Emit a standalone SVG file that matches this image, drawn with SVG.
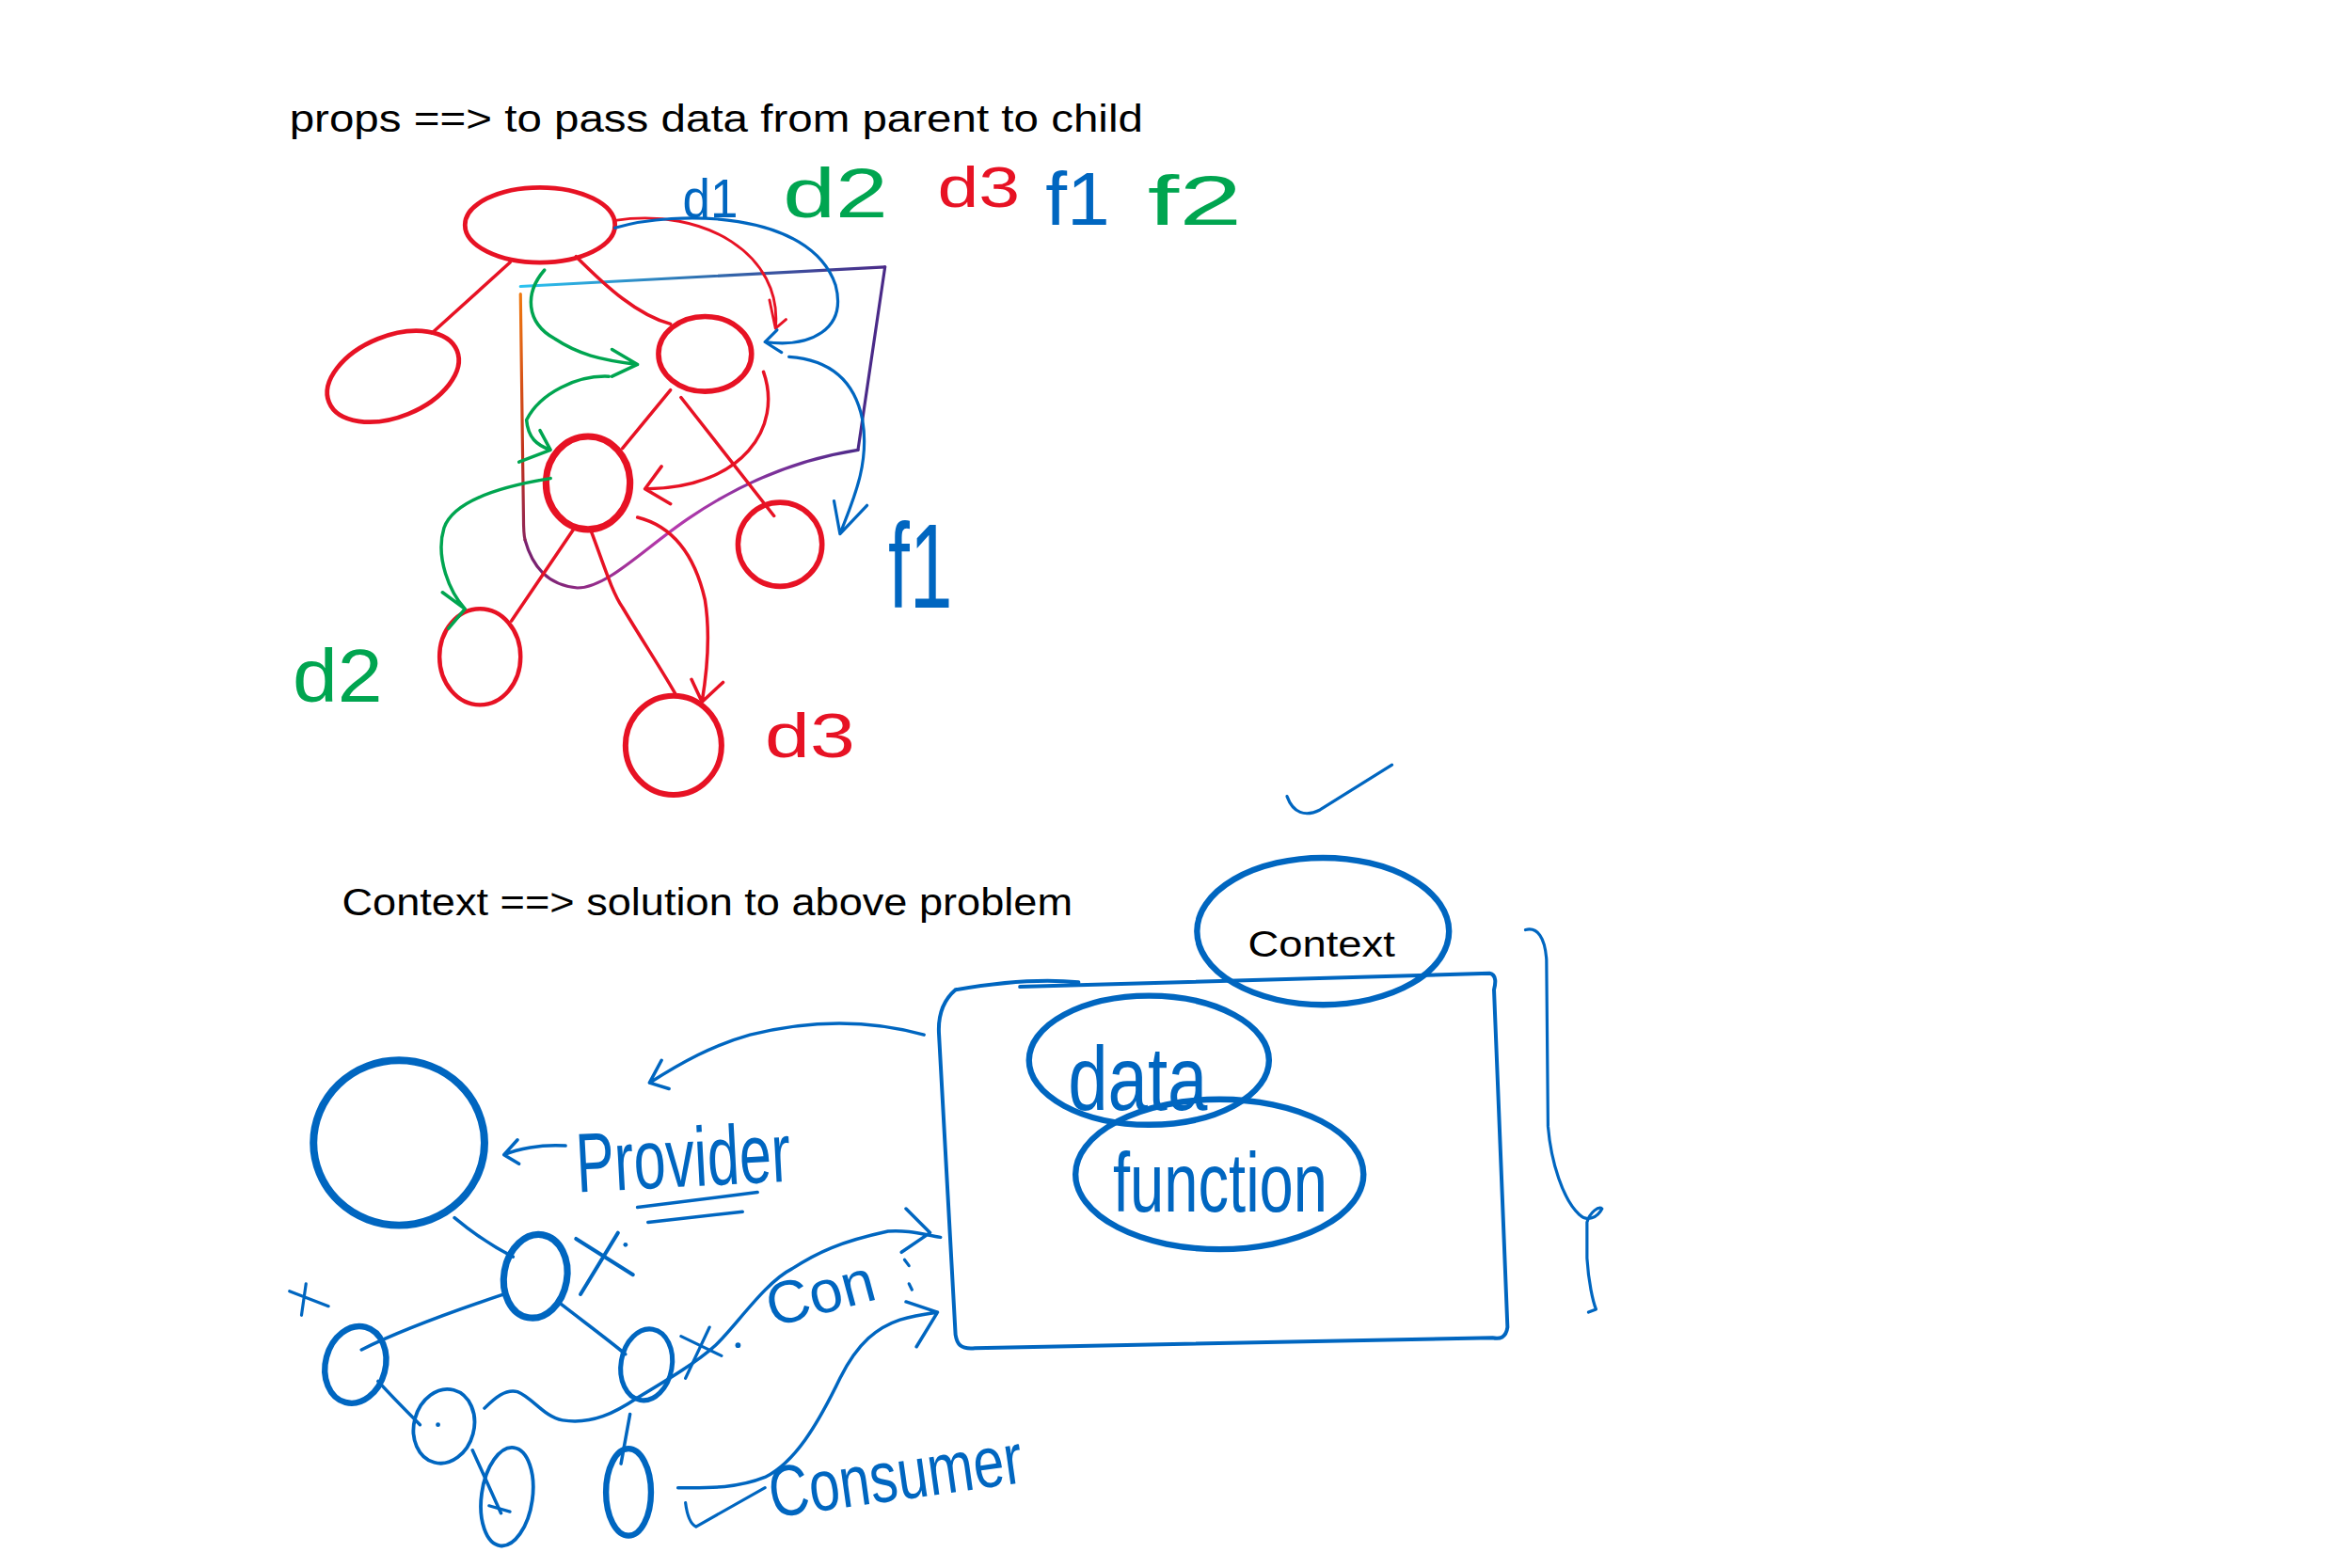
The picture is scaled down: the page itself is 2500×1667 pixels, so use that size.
<svg xmlns="http://www.w3.org/2000/svg" width="2500" height="1667" viewBox="0 0 2500 1667">
<defs>
<style>
.r{fill:none;stroke:#E71224;stroke-linecap:round;stroke-linejoin:round}
.b{fill:none;stroke:#0066C0;stroke-linecap:round;stroke-linejoin:round}
.g{fill:none;stroke:#00A550;stroke-linecap:round;stroke-linejoin:round}
.pt{font-family:"Liberation Sans",Arial,sans-serif;fill:#000}
.hw{font-family:"Liberation Sans",Arial,sans-serif}
</style>
<linearGradient id="gTop" x1="347" y1="0" x2="590" y2="0" gradientUnits="userSpaceOnUse">
<stop offset="0" stop-color="#2BC3F0"/><stop offset="0.5" stop-color="#2F6FB0"/><stop offset="1" stop-color="#4A2A88"/>
</linearGradient>
<linearGradient id="gLeft" x1="0" y1="195" x2="0" y2="380" gradientUnits="userSpaceOnUse">
<stop offset="0" stop-color="#F07A10"/><stop offset="0.6" stop-color="#C0301E"/><stop offset="1" stop-color="#7A2270"/>
</linearGradient>
<linearGradient id="gBot" x1="360" y1="0" x2="575" y2="0" gradientUnits="userSpaceOnUse">
<stop offset="0" stop-color="#7A2270"/><stop offset="0.4" stop-color="#B83AAE"/><stop offset="1" stop-color="#4A2A88"/>
</linearGradient>
</defs>
<rect width="2500" height="1667" fill="#fff"/>
<g transform="scale(1.59439)">
<text id="title1" class="pt" x="193" y="88" font-size="26" textLength="569" lengthAdjust="spacingAndGlyphs">props ==&gt; to pass data from parent to child</text>
<text id="title2" class="pt" x="228" y="610" font-size="26" textLength="487" lengthAdjust="spacingAndGlyphs">Context ==&gt; solution to above problem</text>

<g id="labels-top">
<text class="hw" x="455" y="145" font-size="36" fill="#0066C0" textLength="37" lengthAdjust="spacingAndGlyphs">d1</text>
<text class="hw" x="522" y="145" font-size="46" fill="#00A550" textLength="70" lengthAdjust="spacingAndGlyphs">d2</text>
<text class="hw" x="625" y="138" font-size="38" fill="#E71224" textLength="55" lengthAdjust="spacingAndGlyphs">d3</text>
<text class="hw" x="697" y="150" font-size="50" fill="#0066C0" textLength="43" lengthAdjust="spacingAndGlyphs">f1</text>
<text class="hw" x="765" y="150" font-size="46" fill="#00A550" textLength="63" lengthAdjust="spacingAndGlyphs">f2</text>
<text class="hw" x="592" y="405" font-size="80" fill="#0066C0" textLength="43" lengthAdjust="spacingAndGlyphs">f1</text>
<text class="hw" x="195" y="468" font-size="50" fill="#00A550" textLength="60" lengthAdjust="spacingAndGlyphs">d2</text>
<text class="hw" x="510" y="505" font-size="42" fill="#E71224" textLength="60" lengthAdjust="spacingAndGlyphs">d3</text>
</g>

<!-- top graph nodes -->
<g id="nodeTop"><ellipse class="r" cx="360" cy="150" rx="50" ry="25" stroke-width="3"/></g>
<g id="nodeLeft"><ellipse class="r" cx="262" cy="251" rx="46" ry="27" transform="rotate(-22 262 251)" stroke-width="3"/></g>
<g id="nodeB"><ellipse class="r" cx="470" cy="236" rx="31" ry="25" stroke-width="3.5"/></g>
<g id="nodeC"><ellipse class="r" cx="392" cy="322" rx="28" ry="31" stroke-width="4.5"/></g>
<g id="nodeD"><ellipse class="r" cx="520" cy="363" rx="28" ry="28" stroke-width="3.5"/></g>
<g id="nodeD2"><ellipse class="r" cx="320" cy="438" rx="27" ry="32" stroke-width="2.8"/></g>
<g id="nodeD3"><ellipse class="r" cx="449" cy="497" rx="32" ry="33" stroke-width="3.8"/></g>

<!-- boundary loop -->
<g id="boundary" fill="none" stroke-width="2" stroke-linecap="round">
<path d="M347,191 L590,178" stroke="url(#gTop)"/>
<path d="M590,178 L572,300" stroke="#4A2A88"/>
<path d="M572,300 C540,305 500,318 460,345 C430,365 405,392 385,392 C365,390 355,378 350,360" stroke="url(#gBot)"/>
<path d="M347,196 L349,345 C349,352 349,356 350,360" stroke="url(#gLeft)"/>
</g>

<g id="connectors-top">
<path class="r" stroke-width="2.2" d="M340,175 L288,222"/>
<path class="r" stroke-width="2.2" d="M384,171 C405,192 425,210 447,216"/>
<path class="r" stroke-width="2.2" d="M447,260 L415,299"/>
<path class="r" stroke-width="2.2" d="M454,265 L516,344"/>
<path class="r" stroke-width="2.2" d="M509,248 C522,285 495,325 432,326 M441,311 L430,326 L447,336"/>
<path class="r" stroke-width="1.8" d="M410,147 C470,138 522,170 517,219 M513,200 L517,219 L524,213"/>
<path class="b" stroke-width="2" d="M410,152 C450,140 540,140 557,190 C565,220 540,232 510,228 M518,220 L510,228 L521,235"/>
<path class="b" stroke-width="2" d="M526,238 C555,240 570,255 575,280 C580,310 568,335 560,356 M556,334 L560,356 L578,337"/>
<path class="g" stroke-width="2.2" d="M363,180 C350,195 350,215 370,226 C385,236 400,240 425,243 M408,233 L425,243 L408,251"/>
<path class="g" stroke-width="2.2" d="M406,251 C385,250 360,262 351,280 C352,292 358,297 367,300 M360,287 L367,300 L346,308"/>
<path class="g" stroke-width="2.2" d="M367,319 C330,325 302,335 296,352 C290,372 300,395 310,406 M295,395 L310,406 L299,419"/>
<path class="r" stroke-width="2.2" d="M383,352 L341,414"/>
<path class="r" stroke-width="2.2" d="M394,354 C402,375 408,395 415,405 C430,430 442,448 451,464"/>
<path class="r" stroke-width="2.2" d="M425,345 C445,350 462,365 470,400 C474,425 471,450 468,468 M461,453 L468,468 L482,455"/>
</g>

<!-- bottom section -->
<g id="check"><path class="b" stroke-width="2" d="M858,531 C862,542 870,545 880,540 L928,510"/></g>

<g id="contextBox"><path class="b" stroke-width="2.5" d="M637,660 C660,656 690,652 719,655 M680,658 L993,649 C998,650 997,656 996,660 L1005,885 C1004,892 1000,893 995,892 L650,899 C640,900 638,896 637,890 L626,690 C625,675 630,666 637,660"/></g>
<g id="contextEllipse"><ellipse class="b" cx="882" cy="621" rx="84" ry="49" stroke-width="4"/>
<text class="pt" x="832" y="638" font-size="24" textLength="98" lengthAdjust="spacingAndGlyphs">Context</text></g>
<g id="dataNode"><ellipse class="b" cx="766" cy="707" rx="80" ry="43" stroke-width="4"/>
<text class="hw" x="712" y="740" font-size="60" fill="#0066C0" textLength="93" lengthAdjust="spacingAndGlyphs">data</text></g>
<g id="functionNode"><ellipse class="b" cx="813" cy="783" rx="96" ry="50" stroke-width="4"/>
<text class="hw" x="742" y="808" font-size="56" fill="#0066C0" textLength="143" lengthAdjust="spacingAndGlyphs">function</text></g>
<g id="brace"><path class="b" stroke-width="2" d="M1017,620 C1025,618 1030,625 1031,640 L1032,751 C1034,775 1042,800 1053,810 C1058,815 1065,812 1068,806 C1066,804 1060,808 1058,815 L1058,839 C1059,855 1062,868 1064,873 L1059,875"/></g>

<g id="provider"><ellipse class="b" cx="266" cy="762" rx="57" ry="55" stroke-width="5"/></g>
<g id="providerLabel">
<path class="b" stroke-width="2.2" d="M377,764 C360,763 345,766 336,770 M345,760 L336,770 L346,776"/>
<text class="hw" x="385" y="795" font-size="56" fill="#0066C0" textLength="143" lengthAdjust="spacingAndGlyphs" transform="rotate(-3 385 795)">Provider</text>
<path class="b" stroke-width="2.2" d="M425,805 L505,795 M432,815 L495,808"/>
</g>
<g id="x1"><ellipse class="b" cx="357" cy="851" rx="21" ry="28" transform="rotate(10 357 851)" stroke-width="4.5"/></g>
<g id="x2"><ellipse class="b" cx="237" cy="910" rx="20" ry="26" transform="rotate(15 237 910)" stroke-width="4"/></g>
<g id="x3"><ellipse class="b" cx="431" cy="910" rx="17" ry="24" transform="rotate(10 431 910)" stroke-width="3.2"/></g>
<g id="x4"><ellipse class="b" cx="296" cy="951" rx="20" ry="25" transform="rotate(15 296 951)" stroke-width="2.4"/></g>
<g id="x5"><ellipse class="b" cx="338" cy="998" rx="17" ry="33" transform="rotate(8 338 998)" stroke-width="2.4"/></g>
<g id="x6"><ellipse class="b" cx="419" cy="995" rx="15" ry="29" stroke-width="4"/></g>

<g id="marks" class="b">
<path class="b" stroke-width="2.5" d="M384,826 L422,850 M412,822 L387,863"/>
<circle cx="417" cy="830" r="1.5" fill="#0066C0" stroke="none"/>
<path class="b" stroke-width="2" d="M193,861 L219,871 M204,856 L201,877"/>
<path class="b" stroke-width="2" d="M454,891 L481,904 M473,885 L457,919"/>
<circle cx="492" cy="897" r="1.8" fill="#0066C0" stroke="none"/>
<circle cx="292" cy="950" r="1.5" fill="#0066C0" stroke="none"/>
<path class="b" stroke-width="2" d="M326,1004 L340,1008"/>
</g>

<g id="connectors-bottom">
<path class="b" stroke-width="2.2" d="M616,690 C580,680 540,680 500,690 C475,697 455,708 433,722 M441,707 L433,722 L446,726"/>
<path class="b" stroke-width="2.2" d="M303,812 C315,822 330,832 342,838"/>
<path class="b" stroke-width="2.2" d="M336,863 C300,875 265,888 241,900"/>
<path class="b" stroke-width="2.2" d="M372,868 C390,882 405,893 417,903"/>
<path class="b" stroke-width="2.2" d="M252,921 C262,932 272,942 280,950"/>
<path class="b" stroke-width="2.2" d="M315,967 L334,1009"/>
<path class="b" stroke-width="2.2" d="M420,943 L414,976"/>
<path class="b" stroke-width="2.2" d="M323,939 C330,932 337,926 345,928 C355,932 363,945 375,947 C395,950 410,942 425,932 C445,920 465,908 477,897 C490,885 510,855 528,846 C545,835 560,828 592,821 C605,820 615,823 627,825 M604,806 L620,822 L601,835"/>
<path class="b" stroke-width="2.2" d="M452,992 C470,992 490,993 510,985 C530,975 545,950 560,919 C572,895 585,885 600,880 C610,877 618,876 625,875 M604,868 L625,875 L611,898"/>
<path class="b" stroke-width="2" d="M457,1002 C458,1010 460,1016 464,1018 L510,992"/>
<text class="hw" x="515" y="885" font-size="40" fill="#0066C0" transform="rotate(-15 515 885)">Con</text>
<path class="b" stroke-width="2" d="M603,840 L606,844 M606,856 L608,860"/>
<text class="hw" x="515" y="1012" font-size="48" fill="#0066C0" textLength="170" lengthAdjust="spacingAndGlyphs" transform="rotate(-8 515 1012)">Consumer</text>
</g>
</g>
</svg>
